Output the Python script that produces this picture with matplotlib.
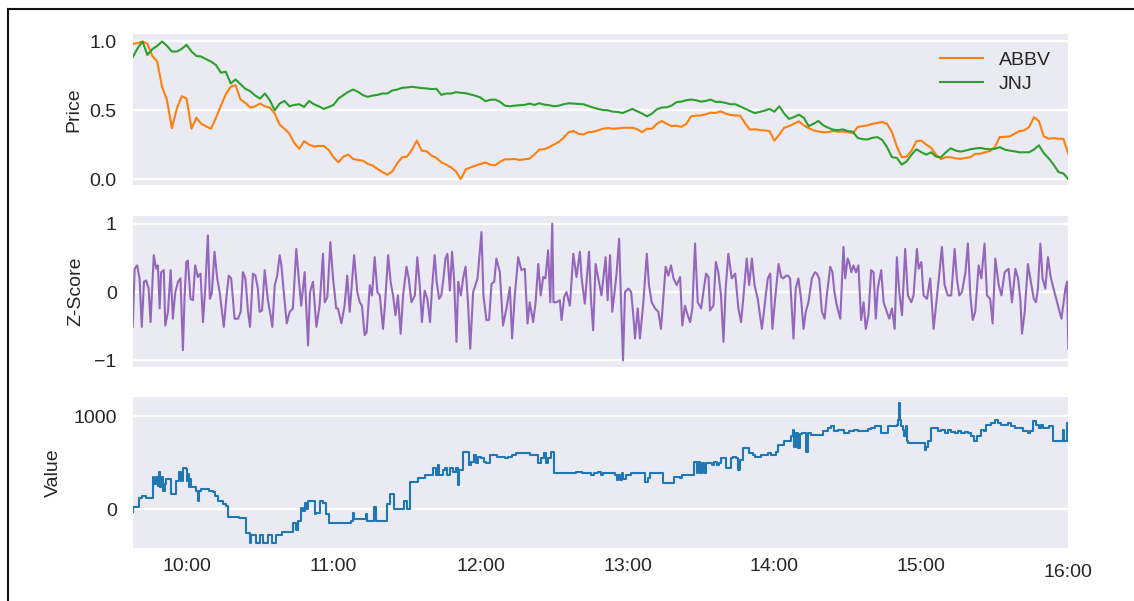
import numpy as np
import pandas as pd
import matplotlib
matplotlib.use("Agg")
import matplotlib.pyplot as plt
import matplotlib.dates as mdates
from matplotlib.lines import Line2D
from matplotlib.transforms import blended_transform_factory

# ---------------- data ----------------
day = "2024-01-02"
series_names = ["ABBV", "JNJ"]

# normalised prices, 2-minute grid from 09:38 to 16:00 (192 points)
abbv = [0.983, 0.988, 1.0, 0.983, 0.895, 0.854, 0.671, 0.573, 0.37, 0.512,
        0.602, 0.585, 0.366, 0.446, 0.402, 0.383, 0.366, 0.446, 0.532, 0.617,
        0.671, 0.683, 0.578, 0.554, 0.520, 0.529, 0.549, 0.529, 0.520, 0.476,
        0.395, 0.366, 0.329, 0.261, 0.220, 0.276, 0.251, 0.237, 0.241, 0.241,
        0.212, 0.159, 0.122, 0.163, 0.178, 0.146, 0.139, 0.134, 0.110, 0.098,
        0.073, 0.051, 0.032, 0.056, 0.115, 0.159, 0.163, 0.212, 0.280, 0.207,
        0.202, 0.171, 0.154, 0.122, 0.105, 0.085, 0.056, 0.0, 0.071, 0.085,
        0.098, 0.110, 0.120, 0.105, 0.100, 0.127, 0.144, 0.144, 0.146, 0.139,
        0.144, 0.149, 0.178, 0.215, 0.217, 0.232, 0.251, 0.271, 0.300, 0.341,
        0.349, 0.329, 0.324, 0.341, 0.344, 0.354, 0.366, 0.371, 0.366, 0.368,
        0.373, 0.373, 0.373, 0.363, 0.341, 0.366, 0.366, 0.402, 0.422, 0.402,
        0.385, 0.388, 0.380, 0.400, 0.456, 0.461, 0.463, 0.471, 0.483, 0.480,
        0.493, 0.476, 0.466, 0.463, 0.461, 0.407, 0.359, 0.363, 0.356, 0.354,
        0.349, 0.280, 0.324, 0.373, 0.385, 0.402, 0.420, 0.390, 0.371, 0.354,
        0.346, 0.341, 0.341, 0.351, 0.344, 0.346, 0.341, 0.334, 0.378, 0.385,
        0.390, 0.402, 0.407, 0.415, 0.402, 0.341, 0.237, 0.159, 0.163, 0.207,
        0.276, 0.280, 0.251, 0.227, 0.178, 0.146, 0.159, 0.159, 0.151, 0.146,
        0.154, 0.159, 0.183, 0.185, 0.195, 0.205, 0.232, 0.305, 0.307, 0.310,
        0.329, 0.349, 0.354, 0.378, 0.450, 0.422, 0.310, 0.293, 0.298, 0.293,
        0.293, 0.183]

jnj = [0.885, 0.951, 1.0, 0.902, 0.944, 0.968, 1.0, 0.968, 0.927, 0.927,
       0.946, 0.976, 0.927, 0.895, 0.890, 0.871, 0.854, 0.829, 0.773, 0.780,
       0.695, 0.724, 0.690, 0.656, 0.639, 0.607, 0.585, 0.622, 0.573, 0.500,
       0.549, 0.568, 0.529, 0.539, 0.544, 0.524, 0.568, 0.544, 0.529, 0.510,
       0.524, 0.539, 0.585, 0.610, 0.634, 0.651, 0.634, 0.610, 0.598, 0.607,
       0.612, 0.622, 0.622, 0.644, 0.651, 0.663, 0.666, 0.671, 0.666, 0.661,
       0.659, 0.654, 0.656, 0.612, 0.622, 0.622, 0.632, 0.627, 0.624, 0.615,
       0.605, 0.593, 0.566, 0.576, 0.578, 0.561, 0.534, 0.529, 0.534, 0.537,
       0.539, 0.549, 0.539, 0.551, 0.541, 0.537, 0.529, 0.534, 0.544, 0.551,
       0.549, 0.546, 0.544, 0.532, 0.520, 0.510, 0.502, 0.500, 0.490, 0.488,
       0.480, 0.495, 0.510, 0.493, 0.476, 0.456, 0.476, 0.507, 0.520, 0.522,
       0.534, 0.559, 0.563, 0.573, 0.578, 0.573, 0.563, 0.568, 0.578, 0.561,
       0.561, 0.554, 0.544, 0.544, 0.529, 0.512, 0.495, 0.480, 0.488, 0.498,
       0.510, 0.490, 0.529, 0.476, 0.437, 0.451, 0.468, 0.446, 0.385, 0.402,
       0.422, 0.390, 0.373, 0.359, 0.356, 0.361, 0.349, 0.344, 0.300, 0.290,
       0.288, 0.300, 0.305, 0.285, 0.232, 0.159, 0.154, 0.105, 0.129, 0.178,
       0.217, 0.195, 0.178, 0.195, 0.163, 0.159, 0.195, 0.224, 0.207, 0.200,
       0.207, 0.217, 0.222, 0.227, 0.220, 0.217, 0.220, 0.232, 0.215, 0.207,
       0.202, 0.195, 0.195, 0.195, 0.215, 0.246, 0.188, 0.151, 0.105, 0.051,
       0.041, 0.0]

# z-score: minutes after 09:30 and values
z_minutes = [8.0, 8.8, 9.8, 10.8, 11.7, 12.6, 13.5, 14.5, 15.3, 16.6,
             17.6, 18.3, 19.0, 19.6, 20.7, 21.3, 22.4, 23.5, 24.4, 25.4,
             26.5, 27.5, 28.5, 29.2, 29.9, 30.5, 31.6, 32.6, 33.5, 34.6,
             35.7, 36.7, 37.6, 38.7, 39.5, 40.3, 41.4, 42.5, 43.5, 45.2,
             46.2, 47.2, 48.2, 49.6, 51.0, 52.1, 53.0, 54.0, 55.1, 55.9,
             57.1, 58.1, 59.1, 59.8, 60.8, 61.9, 63.2, 64.3, 65.0, 66.0,
             67.0, 68.0, 68.7, 69.8, 70.9, 72.1, 73.4, 74.8, 75.8, 76.8,
             78.2, 79.6, 80.4, 81.6, 83.0, 84.3, 85.7, 86.4, 87.5, 88.7,
             89.8, 91.1, 91.8, 93.2, 94.5, 95.6, 96.6, 98.4, 99.7, 100.7,
             101.6, 102.7, 103.5, 104.8, 105.7, 106.8, 107.9, 108.9, 110.2, 110.9,
             112.3, 113.3, 114.3, 115.3, 116.3, 117.4, 118.4, 119.8, 120.7, 121.8,
             123.2, 124.2, 125.2, 126.1, 127.2, 128.3, 129.4, 130.2, 131.3, 132.1,
             133.1, 134.0, 135.0, 135.7, 136.5, 137.5, 138.4, 139.2, 140.2, 140.9,
             142.0, 142.9, 143.9, 144.9, 145.8, 147.0, 148.8, 150.4, 151.2, 152.4,
             153.5, 154.5, 155.6, 156.5, 157.9, 159.2, 160.6, 162.0, 162.9, 164.0,
             165.4, 166.7, 168.1, 169.2, 170.1, 171.5, 172.5, 173.6, 174.6, 175.6,
             176.5, 177.6, 178.5, 179.3, 179.8, 181.0, 182.4, 183.1, 184.2, 185.1,
             186.5, 187.9, 189.2, 190.6, 191.3, 192.6, 194.3, 195.1, 196.0, 197.0,
             198.1, 199.4, 201.1, 201.9, 202.9, 203.8, 204.9, 205.6, 206.6, 207.4,
             208.2, 209.0, 210.4, 211.5, 212.4, 213.1, 214.2, 215.1, 216.5, 217.9,
             218.8, 219.9, 221.3, 222.6, 223.7, 224.7, 225.6, 226.7, 227.8, 228.8,
             230.1, 231.5, 232.4, 233.5, 234.6, 235.6, 236.5, 237.6, 238.7, 240.1,
             241.0, 242.1, 243.1, 243.7, 245.1, 246.1, 247.1, 248.2, 249.2, 250.1,
             251.2, 252.6, 254.0, 255.3, 256.4, 257.4, 258.7, 259.7, 260.8, 261.9,
             263.2, 264.9, 266.0, 267.3, 268.3, 269.2, 270.3, 271.7, 272.8, 273.7,
             274.7, 275.5, 276.4, 277.8, 278.7, 279.8, 280.9, 281.9, 282.8, 283.9,
             285.3, 286.6, 287.3, 288.3, 289.4, 290.5, 291.4, 292.8, 293.7, 294.5,
             295.5, 296.9, 298.2, 298.9, 299.9, 300.5, 301.4, 302.3, 303.3, 304.3,
             305.4, 306.4, 307.3, 308.4, 309.5, 310.5, 311.4, 312.2, 313.6, 314.6,
             315.9, 316.9, 318.0, 319.1, 320.0, 321.0, 322.1, 323.4, 324.5, 325.9,
             326.8, 328.2, 328.9, 330.0, 330.9, 332.3, 333.6, 335.0, 336.0, 337.0,
             338.4, 339.5, 340.8, 342.2, 343.6, 344.5, 345.5, 346.6, 348.0, 349.0,
             350.0, 351.0, 352.0, 353.4, 354.5, 355.8, 356.8, 358.1, 359.1, 360.2,
             361.6, 362.7, 364.0, 365.6, 367.0, 368.4, 369.5, 370.4, 371.1, 372.2,
             373.5, 374.5, 375.9, 376.8, 377.6, 378.6, 379.5, 380.6, 381.7, 382.7,
             383.6, 384.7, 386.1, 387.2, 388.1, 388.8, 389.5, 390.0]
z_values = [-0.51, 0.34, 0.39, 0.20, -0.51, 0.15, 0.17, 0.05, -0.44, 0.54,
            0.34, 0.39, -0.24, 0.29, 0.32, -0.49, -0.29, 0.32, -0.39, 0.0,
            0.15, 0.20, -0.85, -0.05, 0.44, 0.46, -0.10, -0.12, 0.39, 0.22,
            0.27, -0.44, 0.05, 0.83, -0.10, -0.02, 0.59, 0.20, 0.0, -0.51,
            -0.10, 0.24, 0.20, -0.39, -0.39, -0.29, 0.29, 0.20, -0.29, -0.51,
            0.27, 0.24, 0.05, -0.29, -0.27, 0.32, -0.12, -0.34, -0.51, 0.10,
            0.24, 0.54, 0.39, -0.05, -0.46, -0.29, -0.24, 0.63, 0.20, -0.20,
            0.29, -0.78, 0.0, 0.15, -0.51, -0.20, 0.56, -0.15, -0.07, 0.73,
            0.20, -0.24, -0.24, -0.46, -0.20, 0.24, -0.29, 0.54, 0.0, -0.15,
            -0.20, -0.63, -0.59, 0.10, -0.05, 0.51, 0.0, -0.05, -0.54, -0.24,
            0.54, 0.15, -0.05, -0.34, -0.05, -0.61, -0.05, 0.37, 0.20, -0.15,
            -0.05, 0.51, 0.10, -0.44, 0.02, -0.10, -0.44, 0.05, 0.54, 0.15,
            -0.10, -0.05, 0.24, 0.49, 0.56, 0.02, 0.59, 0.20, -0.73, 0.15,
            -0.05, 0.20, 0.37, -0.15, -0.83, 0.0, 0.20, 0.88, -0.05, -0.41,
            -0.41, 0.12, 0.15, 0.49, 0.29, -0.49, -0.24, 0.07, -0.68, -0.05,
            0.51, 0.32, 0.34, -0.46, -0.15, -0.44, -0.15, 0.41, -0.05, 0.22,
            0.20, 0.61, -0.15, 1.0, -0.15, -0.15, -0.12, -0.41, -0.07, 0.0,
            -0.20, 0.56, 0.22, 0.59, 0.20, -0.17, 0.59, -0.10, -0.56, 0.41,
            0.20, -0.05, 0.51, -0.12, 0.54, -0.29, 0.05, 0.29, 0.78, -0.15,
            -1.0, 0.0, 0.05, 0.0, -0.34, -0.68, -0.24, -0.68, -0.15, 0.56,
            0.10, -0.15, -0.24, -0.29, -0.54, -0.05, 0.37, 0.24, 0.39, 0.20,
            0.10, 0.22, -0.49, -0.20, -0.34, -0.44, -0.24, 0.71, -0.15, -0.24,
            0.0, 0.27, 0.22, -0.27, -0.20, 0.44, 0.29, -0.05, -0.73, 0.05,
            0.56, 0.20, 0.27, -0.24, -0.44, -0.05, 0.49, 0.10, 0.49, 0.10,
            -0.10, -0.54, -0.20, 0.20, 0.27, -0.54, -0.10, 0.41, 0.22, 0.20,
            0.24, 0.24, 0.20, -0.68, 0.05, 0.20, -0.10, -0.54, -0.29, -0.15,
            0.20, 0.29, 0.27, 0.20, -0.29, -0.39, -0.05, 0.37, 0.29, 0.0,
            -0.20, -0.39, 0.66, 0.20, 0.49, 0.44, 0.29, 0.39, 0.29, 0.39,
            -0.41, -0.15, -0.54, -0.34, 0.32, 0.29, -0.39, 0.05, 0.32, -0.15,
            -0.29, -0.39, -0.24, -0.54, 0.51, 0.0, -0.34, 0.63, -0.05, -0.15,
            -0.05, 0.63, 0.34, 0.44, -0.05, -0.10, 0.20, -0.54, -0.20, 0.15,
            0.66, 0.10, -0.05, -0.05, 0.63, 0.20, -0.05, 0.0, 0.29, 0.71,
            -0.05, -0.41, -0.29, 0.39, 0.20, 0.71, -0.05, -0.10, -0.46, 0.49,
            0.10, -0.05, 0.29, 0.34, -0.15, 0.34, 0.20, -0.10, -0.61, -0.29,
            0.41, 0.20, -0.10, -0.15, 0.05, 0.71, 0.20, 0.05, 0.51, 0.24,
            0.10, -0.05, -0.24, -0.39, -0.15, 0.05, 0.15, -0.83]

# value (step series): minutes after 09:30 where a level starts, and the level
v_minutes = [8.0, 8.3, 10.5, 11.9, 13.5, 16.2, 16.9, 17.6, 18.3, 18.7,
             19.1, 19.6, 20.3, 21.0, 21.7, 23.7, 25.8, 27.1, 27.8, 28.5,
             29.8, 30.1, 30.5, 30.9, 31.5, 32.0, 33.9, 34.6, 35.0, 36.0,
             39.1, 40.7, 41.8, 42.8, 44.8, 46.2, 46.9, 51.6, 54.4, 55.7,
             56.4, 58.2, 59.8, 61.2, 63.2, 65.0, 66.6, 69.1, 73.4, 74.5,
             75.5, 76.6, 77.5, 78.2, 78.9, 79.7, 82.3, 82.9, 84.6, 85.7,
             87.0, 88.1, 97.3, 97.9, 98.5, 103.1, 103.8, 106.4, 107.2, 111.8,
             112.9, 114.6, 118.8, 119.9, 121.3, 124.5, 127.2, 130.8, 131.9, 132.7,
             133.2, 134.7, 135.7, 136.5, 137.5, 138.7, 140.0, 140.9, 141.4, 142.9,
             145.5, 146.3, 147.3, 148.2, 148.8, 150.1, 151.5, 152.3, 153.7, 156.9,
             160.0, 161.3, 162.7, 164.3, 170.1, 173.6, 174.6, 176.0, 176.8, 177.6,
             178.7, 180.1, 187.2, 188.8, 191.3, 195.3, 196.4, 198.1, 199.2, 200.2,
             204.9, 205.6, 206.3, 207.0, 207.6, 208.3, 209.3, 211.5, 217.2, 218.3,
             219.2, 224.7, 229.2, 231.5, 232.4, 237.3, 238.2, 239.0, 239.8, 240.3,
             241.4, 242.2, 243.7, 244.7, 245.5, 246.5, 247.4, 248.2, 250.4, 252.3,
             253.1, 254.5, 255.3, 256.1, 257.0, 259.7, 261.3, 262.1, 264.6, 267.3,
             268.7, 270.6, 271.4, 273.8, 276.8, 277.7, 278.2, 278.9, 279.6, 280.4,
             281.1, 283.1, 283.6, 285.0, 290.0, 291.8, 293.2, 294.5, 295.9, 298.6,
             300.3, 302.7, 304.1, 305.4, 308.2, 309.5, 310.9, 313.2, 313.6, 316.3,
             319.9, 320.6, 320.8, 321.2, 321.8, 322.6, 323.0, 323.6, 324.0, 324.5,
             331.3, 332.1, 332.8, 333.8, 336.8, 338.1, 339.5, 340.8, 342.2, 343.6,
             344.9, 346.3, 347.7, 349.0, 350.4, 351.7, 352.8, 354.2, 355.6, 356.4,
             358.6, 359.9, 361.3, 362.6, 365.4, 366.7, 368.1, 371.4, 373.5, 374.4,
             375.4, 376.8, 378.2, 379.0, 379.8, 382.3, 383.6, 387.7, 388.4, 389.6,
             390.0]
v_values = [-25, 25, 127, 145, 127, 345, 273, 345, 250, 400,
            236, 345, 200, 273, 327, 164, 309, 400, 309, 447,
            436, 309, 380, 236, 330, 236, 200, 91, 200, 218,
            200, 182, 145, 91, 55, 36, -84, -91, -255, -364,
            -273, -364, -273, -364, -273, -364, -273, -244, -145, -218,
            -127, 18, -18, 73, 0, 91, -55, -36, 91, 73,
            -55, -150, -127, -36, -109, -55, -127, 25, -127, 55,
            164, 0, 90, 7, 296, 332, 368, 440, 368, 476,
            368, 422, 440, 368, 440, 404, 440, 260, 422, 621,
            476, 513, 585, 495, 567, 549, 513, 495, 585, 567,
            549, 567, 585, 603, 585, 495, 549, 603, 495, 549,
            621, 386, 386, 397, 386, 368, 386, 404, 368, 386,
            368, 314, 368, 314, 386, 321, 368, 386, 296, 332,
            386, 285, 350, 332, 368, 513, 386, 513, 386, 495,
            386, 495, 502, 476, 513, 476, 495, 549, 440, 549,
            567, 549, 422, 531, 657, 603, 585, 567, 585, 603,
            585, 621, 693, 729, 783, 856, 675, 820, 657, 810,
            820, 621, 820, 801, 838, 874, 892, 838, 856, 820,
            838, 856, 838, 847, 865, 874, 892, 899, 820, 892,
            910, 964, 1144, 964, 892, 856, 783, 892, 729, 711,
            639, 675, 729, 874, 838, 856, 820, 848, 829, 820,
            838, 820, 829, 820, 783, 729, 783, 856, 838, 910,
            928, 964, 928, 910, 928, 892, 874, 838, 820, 838,
            946, 910, 874, 910, 874, 892, 729, 856, 729, 928,
            928]

x_tick_hours = [10, 11, 12, 13, 14, 15]
last_label = "16:00"
price_ticks = [0.0, 0.5, 1.0]
z_ticks = [-1, 0, 1]
value_ticks = [0, 1000]

# ---------------- build time axes ----------------
open_ts = pd.Timestamp(f"{day} 09:30")
price_times = pd.date_range(f"{day} 09:38", periods=len(abbv), freq="2min")
z_times = open_ts + pd.to_timedelta(z_minutes, unit="m")
v_times = open_ts + pd.to_timedelta(v_minutes, unit="m")
t_start = pd.Timestamp(f"{day} 09:38")
t_end = pd.Timestamp(f"{day} 16:00")

# ---------------- style ----------------
plt.rcParams['font.family'] = ['Liberation Sans', 'DejaVu Sans']
plt.rcParams['font.size'] = 14
TEXT = '#262626'
BG = '#EAEAF2'

W, H = 1134, 601
fig = plt.figure(figsize=(W / 100, H / 100), dpi=100)


def rect(l, t, r, b):
    return [l / W, 1 - b / H, (r - l) / W, (b - t) / H]


ax1 = fig.add_axes(rect(132.7, 33.5, 1068.3, 185.3))
ax2 = fig.add_axes(rect(132.7, 215.5, 1068.3, 366.5), sharex=ax1)
ax3 = fig.add_axes(rect(132.7, 397.3, 1068.3, 548.3), sharex=ax1)

for ax in (ax1, ax2, ax3):
    ax.set_facecolor(BG)
    for s in ax.spines.values():
        s.set_visible(False)
    ax.set_axisbelow(True)
    ax.grid(axis='y', color='white', linewidth=1.7)
    ax.grid(axis='x', visible=False)
    ax.tick_params(axis='both', length=0, labelsize=14, labelcolor=TEXT)
    ax.tick_params(axis='y', pad=11.5)
    ax.tick_params(axis='x', pad=7.2)

# top: prices
ax1.plot(price_times, abbv, color='#ff7f0e', lw=1.5, label=series_names[0])
ax1.plot(price_times, jnj, color='#2ca02c', lw=1.5, label=series_names[1])
ax1.set_ylim(-0.045, 1.058)
ax1.set_yticks(price_ticks)
ax1.set_yticklabels(["0.0", "0.5", "1.0"])
ax1.set_ylabel("Price", color=TEXT, fontsize=14)
ax1.yaxis.set_label_coords(-0.054, 0.5)
ax1.tick_params(labelbottom=False)
leg = ax1.legend(loc='upper right', frameon=False, fontsize=14,
                 handlelength=2.2, handletextpad=0.8, labelspacing=0.35,
                 borderaxespad=0.5)
for t in leg.get_texts():
    t.set_color(TEXT)

# middle: z-score
ax2.plot(z_times, z_values, color='#9467bd', lw=1.5)
ax2.set_ylim(-1.09, 1.12)
ax2.set_yticks(z_ticks)
ax2.set_ylabel("Z-Score", color=TEXT, fontsize=14)
ax2.yaxis.set_label_coords(-0.0513, 0.5)
ax2.tick_params(labelbottom=False)

# bottom: value
ax3.plot(v_times, v_values, color='#1f77b4', lw=1.5, drawstyle='steps-post')
ax3.set_ylim(-419, 1204)
ax3.set_yticks(value_ticks)
ax3.set_ylabel("Value", color=TEXT, fontsize=14)
ax3.yaxis.set_label_coords(-0.0752, 0.5)

ax3.set_xlim(t_start, t_end)
ax3.xaxis.set_major_locator(mdates.HourLocator(byhour=x_tick_hours))
ax3.xaxis.set_major_formatter(mdates.DateFormatter('%H:%M'))
trans = blended_transform_factory(ax3.transData, ax3.transAxes)
ax3.text(mdates.date2num(t_end.to_pydatetime()), -0.157, last_label,
         transform=trans, ha='center', va='center', fontsize=14, color=TEXT)

# figure border (left and top edges visible)
fig.add_artist(Line2D([7.5 / W, 7.5 / W], [0, 1 - 8.5 / H],
                      transform=fig.transFigure, color='#111111', lw=1.5))
fig.add_artist(Line2D([7.5 / W, 1], [1 - 8.5 / H, 1 - 8.5 / H],
                      transform=fig.transFigure, color='#111111', lw=1.5))

fig.savefig("out.png", dpi=100, facecolor='white')
